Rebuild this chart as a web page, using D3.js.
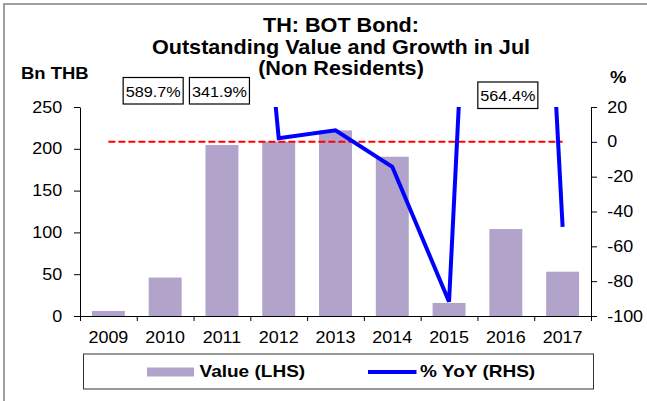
<!DOCTYPE html>
<html>
<head>
<meta charset="utf-8">
<script src="https://cdn.jsdelivr.net/npm/d3@7"></script>
<style>
  body { margin: 0; background: #fff; }
  text { font-family: "Liberation Sans", Arial, sans-serif; fill: #000; }
</style>
</head>
<body>
<script>
var width = 647,
  height = 401;

// data
const years = ["2009", "2010", "2011", "2012", "2013", "2014", "2015", "2016", "2017"];
const values = [6, 46, 204.5, 208.5, 222, 190.5, 15.6, 104, 53];
const yoy = [null, 589.7, 341.9, 2.1, 6.6, -14.3, -91.8, 564.4, -48.8];
const leftTicks = [0, 50, 100, 150, 200, 250];
const rightTicks = [-100, -80, -60, -40, -20, 0, 20];
const offLabels = ["2010", "2011", "2016"];
const titleLines = ["TH: BOT Bond:", "Outstanding Value and Growth in Jul", "(Non Residents)"];

const SX = 1.12; // the picture's text is a bit wider than plain Arial
const barColor = "#b1a3c9";

const svg = d3
  .select("body")
  .append("svg")
  .attr("width", width)
  .attr("height", height);

const plot = { left: 80, right: 591, top: 107, bottom: 316 };

const x = d3
  .scaleBand()
  .domain(years)
  .range([plot.left, plot.right])
  .paddingInner(0.42)
  .paddingOuter(0.21);

const xEdge = d3
  .scaleLinear()
  .domain([0, years.length])
  .range([plot.left, plot.right]);

const yL = d3.scaleLinear().domain([0, 250]).range([plot.bottom, plot.top]);
const yR = d3.scaleLinear().domain([-100, 20]).range([plot.bottom, plot.top]);

function label(parent, px, py, txt, size, weight, anchor) {
  const g = parent
    .append("g")
    .attr("transform", `translate(${px},${py}) scale(${SX},1)`);
  return g
    .append("text")
    .attr("text-anchor", anchor || "start")
    .attr("font-size", size)
    .attr("font-weight", weight || "normal")
    .text(txt);
}

// outer frame (only top and left visible)
svg.append("path")
  .attr("d", `M4,${height} V4 H${width}`)
  .attr("fill", "none")
  .attr("stroke", "#808080")
  .attr("stroke-width", 1.5);

// title
titleLines.forEach((t, i) => {
  label(svg, 341, 32 + i * 21.5, t, 19.3, "bold", "middle");
});
label(svg, 21, 79, "Bn THB", 16.5, "bold");
label(svg, 610, 83, "%", 16.5, "bold");

// bars
svg.append("g")
  .selectAll("rect")
  .data(years)
  .enter()
  .append("rect")
  .attr("x", (d) => x(d))
  .attr("width", x.bandwidth())
  .attr("y", (d, i) => yL(values[i]))
  .attr("height", (d, i) => yL(0) - yL(values[i]))
  .attr("fill", barColor);

// zero line on right axis
svg.append("line")
  .attr("x1", x(years[0]) + x.bandwidth() / 2)
  .attr("x2", x(years[years.length - 1]) + x.bandwidth() / 2)
  .attr("y1", yR(0))
  .attr("y2", yR(0))
  .attr("stroke", "#ff0000")
  .attr("stroke-width", 2)
  .attr("stroke-dasharray", "7,3");

// yoy line, clipped to plot
svg.append("clipPath")
  .attr("id", "clip")
  .append("rect")
  .attr("x", plot.left)
  .attr("y", plot.top)
  .attr("width", plot.right - plot.left)
  .attr("height", plot.bottom - plot.top);

const line = d3
  .line()
  .defined((d) => d != null)
  .x((d, i) => x(years[i]) + x.bandwidth() / 2)
  .y((d) => yR(d));

svg.append("path")
  .datum(yoy)
  .attr("clip-path", "url(#clip)")
  .attr("d", line)
  .attr("fill", "none")
  .attr("stroke", "#0000ff")
  .attr("stroke-width", 4);

// axes
const fmt = (d) => String(d);

const axL = svg.append("g")
  .attr("transform", `translate(${plot.left},0)`)
  .call(d3.axisLeft(yL).tickValues(leftTicks).tickFormat(fmt).tickSize(6).tickSizeOuter(0).tickPadding(10));

const axR = svg.append("g")
  .attr("transform", `translate(${plot.right},0)`)
  .call(d3.axisRight(yR).tickValues(rightTicks).tickFormat(fmt).tickSize(6).tickSizeOuter(0).tickPadding(8.5));

svg.append("g")
  .attr("transform", `translate(0,${plot.bottom})`)
  .call(d3.axisBottom(xEdge).tickValues(d3.range(years.length + 1)).tickFormat("").tickSize(5).tickSizeOuter(0));

const axB = svg.append("g")
  .attr("transform", `translate(0,${plot.bottom})`)
  .call(d3.axisBottom(x).tickSize(0).tickPadding(15.5));
axB.select(".domain").remove();

[axL, axR, axB].forEach((a) => {
  a.selectAll("text")
    .attr("font-size", 16)
    .attr("font-family", null)
    .attr("transform", `scale(${SX},1)`);
});
svg.selectAll(".domain, .tick line").attr("stroke", "#000");

// value boxes for points off the chart
const boxTop = { "2010": 77.5, "2011": 77.5, "2016": 82 };
const boxShift = { "2010": -12, "2011": -2.5, "2016": 2 };
offLabels.forEach((yr) => {
  const i = years.indexOf(yr);
  const cx = x(yr) + x.bandwidth() / 2 + boxShift[yr];
  const g = svg.append("g");
  const rect = g.append("rect");
  const t = label(g, cx, boxTop[yr] + 19, yoy[i].toFixed(1) + "%", 14.5, "normal", "middle");
  const w = t.node().getComputedTextLength() * SX + 5;
  rect
    .attr("x", cx - w / 2)
    .attr("y", boxTop[yr])
    .attr("width", w)
    .attr("height", 26.5)
    .attr("fill", "#fff")
    .attr("stroke", "#000")
    .attr("stroke-width", 1.2);
});

// legend
const lg = svg.append("g");
lg.append("rect")
  .attr("x", 83.5)
  .attr("y", 354)
  .attr("width", 510)
  .attr("height", 35)
  .attr("fill", "#fff")
  .attr("stroke", "#333")
  .attr("stroke-width", 1);
lg.append("rect")
  .attr("x", 147)
  .attr("y", 367.5)
  .attr("width", 47)
  .attr("height", 9)
  .attr("fill", barColor);
label(lg, 199.5, 377, "Value (LHS)", 17, "bold");
lg.append("line")
  .attr("x1", 368)
  .attr("x2", 416.5)
  .attr("y1", 372)
  .attr("y2", 372)
  .attr("stroke", "#0000ff")
  .attr("stroke-width", 4);
label(lg, 420, 377, "% YoY (RHS)", 17, "bold");
</script>
</body>
</html>
